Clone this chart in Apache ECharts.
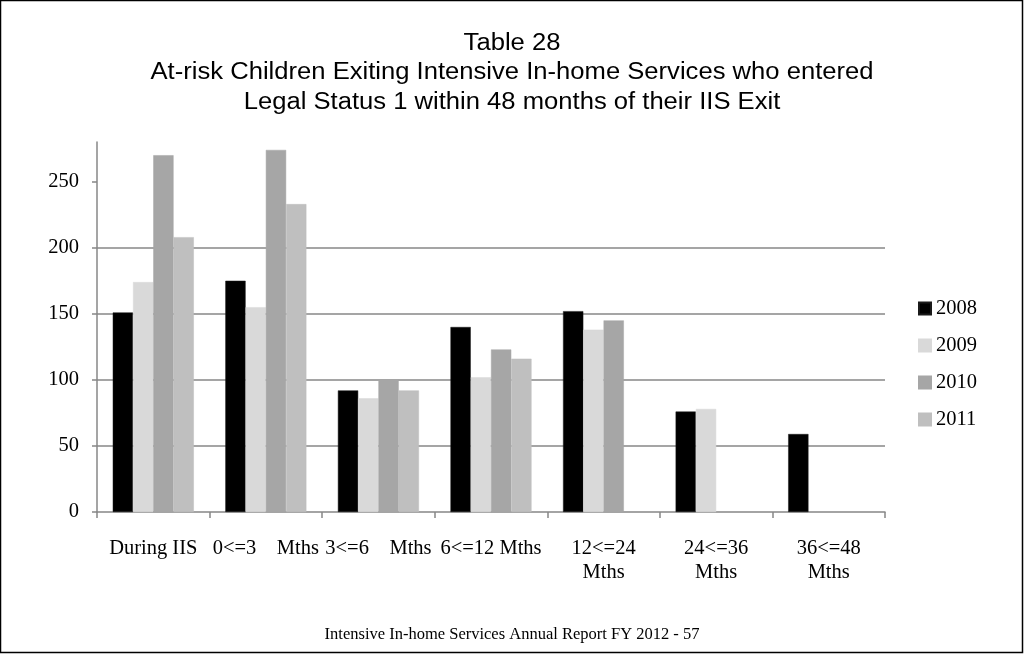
<!DOCTYPE html>
<html>
<head>
<meta charset="utf-8">
<script src="https://cdn.jsdelivr.net/npm/echarts@6/dist/echarts.min.js"></script>
<style>
html,body{margin:0;padding:0;background:#fff;}
#chart{width:1025px;height:655px;}
</style>
</head>
<body>
<div id="chart"></div>
<script>
const categories = ['During IIS', '0<=3    Mths', '3<=6    Mths', '6<=12 Mths', '12<=24\nMths', '24<=36\nMths', '36<=48\nMths'];
const s2008 = [151, 175, 92, 140, 152, 76, 59];
const s2009 = [174, 155, 86, 102, 138, 78, null];
const s2010 = [270, 274, 100, 123, 145, null, null];
const s2011 = [208, 233, 92, 116, null, null, null];
const yTicks = [0, 50, 100, 150, 200, 250];
const seriesNames = ['2008', '2009', '2010', '2011'];
const seriesColors = ['#000000', '#d9d9d9', '#a6a6a6', '#bfbfbf'];
const seriesData = [s2008, s2009, s2010, s2011];
const titleLines = ['Table 28', 'At-risk Children Exiting Intensive In-home Services who entered', 'Legal Status 1 within 48 months of their IIS Exit'];
const footerText = 'Intensive In-home Services Annual Report FY 2012 - 57';

const serif = '"Liberation Serif", "Times New Roman", serif';
const titleFont = '23px "Liberation Sans", Arial, sans-serif';

// horizontal stretch so the long title line spans ~723px like the reference (spaced narrow face)
const cv = document.createElement('canvas').getContext('2d');
cv.font = titleFont;
const titleScale = 723 / cv.measureText(titleLines[1]).width;

const titleGraphics = titleLines.map((t, i) => ({
  type: 'text', x: 512, y: 43.5 + i * 29.5, scaleX: titleScale, silent: true,
  style: {x: 0, y: 0, text: t, font: titleFont, fill: '#000', textAlign: 'center', textVerticalAlign: 'middle'}
}));

const chart = echarts.init(document.getElementById('chart'), null, {renderer: 'canvas'});
chart.setOption({
  animation: false,
  backgroundColor: '#ffffff',
  legend: {
    orient: 'vertical', left: 913, top: 293, itemGap: 16,
    icon: 'rect', itemWidth: 12, itemHeight: 12,
    textStyle: {fontFamily: serif, fontSize: 20.5, color: '#000', padding: [0, 0, 0, 0]},
    data: seriesNames
  },
  grid: {left: 97, right: 140, top: 142, bottom: 143, containLabel: false},
  xAxis: {
    type: 'category', data: categories,
    axisLine: {lineStyle: {color: '#878787', width: 1.5}},
    axisTick: {show: true, length: 6, lineStyle: {color: '#878787', width: 1.5}},
    axisLabel: {fontFamily: serif, fontSize: 20.5, color: '#000', margin: 25, lineHeight: 24, interval: 0}
  },
  yAxis: {
    type: 'value', min: 0, max: 280, interval: 50,
    axisLine: {show: true, lineStyle: {color: '#878787', width: 1.5}},
    axisTick: {show: true, length: 5, customValues: yTicks, lineStyle: {color: '#878787', width: 1.5}},
    axisLabel: {fontFamily: serif, fontSize: 20.5, color: '#000', margin: 18, customValues: yTicks},
    splitLine: {show: true, showMinLine: false, showMaxLine: false, lineStyle: {color: '#878787', width: 1.5}}
  },
  series: seriesNames.map((n, i) => ({
    name: n, type: 'bar', data: seriesData[i],
    barGap: '0%', barCategoryGap: '28%',
    itemStyle: {color: seriesColors[i], borderColor: i === 0 ? '#1a1a1a' : seriesColors[i], borderWidth: 0.5}
  })),
  graphic: titleGraphics.concat([
    {type: 'rect', shape: {x: 0.5, y: 0.5, width: 1022, height: 652}, style: {fill: 'none', stroke: '#000', lineWidth: 1.5}, silent: true},
    {type: 'text', x: 512, y: 635, silent: true, style: {x: 0, y: 0, text: footerText, font: '16.5px ' + serif, fill: '#000', textAlign: 'center', textVerticalAlign: 'middle'}}
  ])
});
</script>
</body>
</html>
